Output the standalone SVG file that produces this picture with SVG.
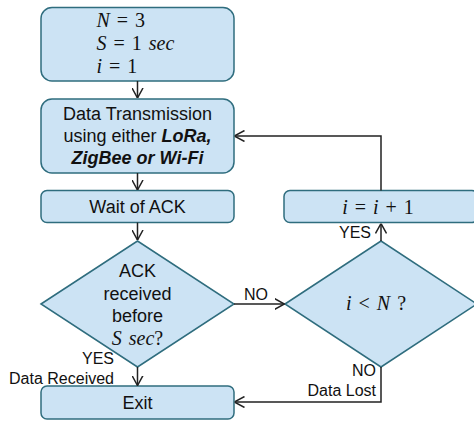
<svg xmlns="http://www.w3.org/2000/svg" width="474" height="424" viewBox="0 0 474 424">
<style>
.box{fill:#cce3f4;stroke:#2f6d7e;stroke-width:1.5}
.t{font-family:"Liberation Sans",Arial,sans-serif;font-size:18px;fill:#111;text-anchor:middle}
.bi{font-weight:bold;font-style:italic}
.m{font-family:"Liberation Serif","Times New Roman",serif;font-size:20px;fill:#111}
.mi{font-style:italic}
.lbl{font-family:"Liberation Sans",Arial,sans-serif;font-size:16px;fill:#111}
.c{fill:none;stroke:#222;stroke-width:1.5}
</style>
<defs>
<marker id="ah" viewBox="0 0 10 12" refX="10" refY="6" markerWidth="10" markerHeight="12" markerUnits="userSpaceOnUse" orient="auto">
<path d="M0,0.5 L10,6 L0,11.5" fill="none" stroke="#222" stroke-width="1.5"/>
</marker>
</defs>
<g id="init">
<rect class="box" x="41" y="7.5" width="193" height="73.5" rx="11"/>
<text class="m" x="96.5" y="27" word-spacing="2"><tspan class="mi">N</tspan> = 3</text>
<text class="m" x="96.5" y="50" word-spacing="2"><tspan class="mi">S</tspan> = 1 <tspan class="mi">sec</tspan></text>
<text class="m" x="96.5" y="73" word-spacing="2"><tspan class="mi">i</tspan> = 1</text>
</g>
<g id="transmit">
<rect class="box" x="41" y="99" width="193" height="74" rx="11"/>
<text class="t" x="137.5" y="119.5">Data Transmission</text>
<text class="t" x="137.5" y="141.5">using either <tspan class="bi">LoRa,</tspan></text>
<text class="t bi" x="137.5" y="164">ZigBee or Wi-Fi</text>
</g>
<g id="wait">
<rect class="box" x="41" y="190.5" width="193" height="32" rx="6"/>
<text class="t" x="137.5" y="213">Wait of ACK</text>
</g>
<g id="ackcheck">
<polygon class="box" points="41,304 137.5,241 234,304 137.5,367"/>
<text class="t" x="137.5" y="277">ACK</text>
<text class="t" x="137.5" y="299.5">received</text>
<text class="t" x="137.5" y="322">before</text>
<text class="m" x="137.5" y="345" text-anchor="middle" word-spacing="2"><tspan class="mi">S sec</tspan>?</text>
</g>
<g id="exit">
<rect class="box" x="41" y="386" width="193" height="33" rx="6"/>
<text class="t" x="137.5" y="409">Exit</text>
</g>
<g id="increment">
<rect class="box" x="284" y="190.5" width="194" height="32" rx="6"/>
<text class="m" x="378" y="213.5" text-anchor="middle" word-spacing="2"><tspan class="mi">i</tspan> = <tspan class="mi">i</tspan> + 1</text>
</g>
<g id="retrycheck">
<polygon class="box" points="285,304 381,241 477,304 381,367"/>
<text class="m" x="376" y="310" text-anchor="middle" word-spacing="2"><tspan class="mi">i</tspan> &lt; <tspan class="mi">N</tspan>  ?</text>
</g>
<g id="connectors">
<path class="c" d="M137.5,81 V98" marker-end="url(#ah)"/>
<path class="c" d="M137.5,173 V190" marker-end="url(#ah)"/>
<path class="c" d="M137.5,222.5 V240" marker-end="url(#ah)"/>
<path class="c" d="M137.5,367 V385.5" marker-end="url(#ah)"/>
<path class="c" d="M234,304 H284.5" marker-end="url(#ah)"/>
<path class="c" d="M381,241 V223.5" marker-end="url(#ah)"/>
<path class="c" d="M381,190.5 V136 H234.5" marker-end="url(#ah)"/>
<path class="c" d="M381,367 V402 H234.5" marker-end="url(#ah)"/>
<text class="lbl" x="244" y="300">NO</text>
<text class="lbl" x="371" y="238" text-anchor="end">YES</text>
<text class="lbl" x="376" y="376" text-anchor="end">NO</text>
<text class="lbl" x="376" y="396" text-anchor="end">Data Lost</text>
<text class="lbl" x="114" y="363.5" text-anchor="end">YES</text>
<text class="lbl" x="114" y="383.5" text-anchor="end">Data Received</text>
</g>
</svg>
